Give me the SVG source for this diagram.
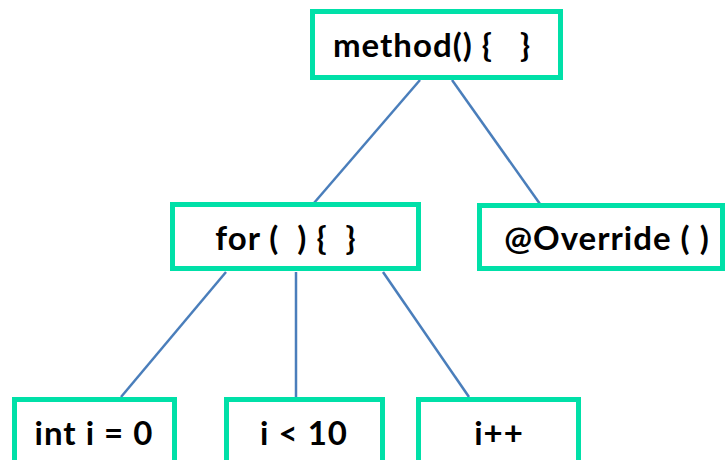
<svg xmlns="http://www.w3.org/2000/svg" width="726" height="460" viewBox="0 0 726 460">
  <style>
    .box { fill: #ffffff; stroke: #00E0A8; stroke-width: 5; }
    .lbl { font-family: Lato, "Liberation Sans", sans-serif; font-weight: bold; font-size: 33px; letter-spacing: 1px; fill: #000000; text-anchor: middle; white-space: pre; }
    .edge { stroke: #4A7EBB; stroke-width: 2.5; fill: none; }
  </style>
  <rect width="726" height="460" fill="#ffffff"/>
  <g id="connectors">
    <line class="edge" x1="420" y1="80" x2="314" y2="203"/>
    <line class="edge" x1="452" y1="80" x2="540" y2="204"/>
    <line class="edge" x1="226" y1="272" x2="121" y2="397"/>
    <line class="edge" x1="296" y1="272" x2="296" y2="397"/>
    <line class="edge" x1="383" y1="272" x2="469" y2="397"/>
  </g>
  <g id="method">
    <rect class="box" x="312.5" y="11.5" width="248" height="66"/>
    <text class="lbl" x="432" y="57" xml:space="preserve">method() {   }</text>
  </g>
  <g id="for">
    <rect class="box" x="172.5" y="204.5" width="246" height="64"/>
    <text class="lbl" x="286" y="250" xml:space="preserve">for (  ) {  }</text>
  </g>
  <g id="override">
    <rect class="box" x="479.5" y="205.5" width="243" height="63"/>
    <text class="lbl" x="607" y="250">@Override ( )</text>
  </g>
  <g id="init">
    <rect class="box" x="14.5" y="399.5" width="160" height="70"/>
    <text class="lbl" x="94" y="445">int i = 0</text>
  </g>
  <g id="cond">
    <rect class="box" x="226.5" y="399.5" width="156" height="70"/>
    <text class="lbl" x="304" y="445">i &lt; 10</text>
  </g>
  <g id="incr">
    <rect class="box" x="418.5" y="399.5" width="160" height="70"/>
    <text class="lbl" x="499" y="445">i++</text>
  </g>
</svg>
